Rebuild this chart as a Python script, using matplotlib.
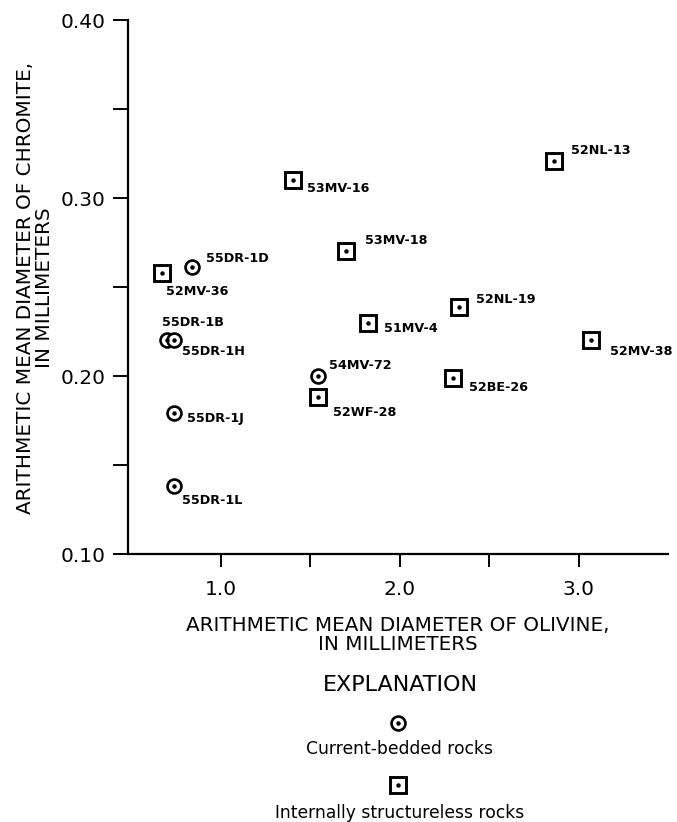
import numpy as np
import matplotlib
matplotlib.use("Agg")
import matplotlib.pyplot as plt
from matplotlib.lines import Line2D

# samples: current-bedded rocks (circles)
bedded_names = ["55DR-1D", "55DR-1B", "55DR-1H", "55DR-1J", "55DR-1L", "54MV-72"]
bedded_olivine = [0.84, 0.70, 0.74, 0.74, 0.74, 1.545]
bedded_chromite = [0.261, 0.220, 0.220, 0.179, 0.138, 0.200]

# samples: internally structureless rocks (squares)
massive_names = ["52NL-13", "53MV-16", "53MV-18", "52MV-36", "51MV-4",
                 "52NL-19", "52MV-38", "52BE-26", "52WF-28"]
massive_olivine = [2.865, 1.40, 1.70, 0.67, 1.82, 2.33, 3.07, 2.30, 1.545]
massive_chromite = [0.321, 0.310, 0.270, 0.258, 0.230, 0.239, 0.220, 0.199, 0.188]

x_ticks = [1.0, 1.5, 2.0, 2.5, 3.0]
x_ticklabels = ["1.0", "", "2.0", "", "3.0"]
y_ticks = [0.10, 0.15, 0.20, 0.25, 0.30, 0.35, 0.40]
y_ticklabels = ["0.10", "", "0.20", "", "0.30", "", "0.40"]

# label offsets in pixels from the marker (dx, dy)
label_offsets = {
    "52NL-13": (17, 10), "53MV-16": (14, -8), "53MV-18": (19, 11),
    "52MV-36": (4, -19), "55DR-1D": (14, 9), "55DR-1B": (-5, 18),
    "55DR-1H": (8, -11), "51MV-4": (16, -6), "54MV-72": (11, 11),
    "52WF-28": (15, -15), "55DR-1J": (13, -5), "55DR-1L": (8, -14),
    "52NL-19": (17, 7), "52MV-38": (19, -11), "52BE-26": (16, -10),
}

W, H = 677, 822
fig = plt.figure(figsize=(W / 100, H / 100), dpi=100)
ax = fig.add_axes([128 / W, 1 - 554 / H, 540 / W, 534 / H])

circle_style = dict(linestyle="none", marker="o", ms=10, mfc="white", mec="black", mew=1.9)
square_style = dict(linestyle="none", marker="s", ms=12, mfc="white", mec="black", mew=2.1)
dot_style = dict(linestyle="none", marker="o", ms=2.2, color="black")

ax.plot(bedded_olivine, bedded_chromite, **circle_style)
ax.plot(bedded_olivine, bedded_chromite, **dot_style)
ax.plot(massive_olivine, massive_chromite, **square_style)
ax.plot(massive_olivine, massive_chromite, **dot_style)

for names, xs, ys in [(bedded_names, bedded_olivine, bedded_chromite),
                      (massive_names, massive_olivine, massive_chromite)]:
    for n, x, y in zip(names, xs, ys):
        ax.annotate(n, (x, y), xytext=label_offsets[n], textcoords="offset pixels",
                    ha="left", va="center", fontsize=9.2, fontweight="bold")

ax.set_xlim(0.48, 3.5)
ax.set_ylim(0.10, 0.40)
ax.set_xticks(x_ticks)
ax.set_xticklabels(x_ticklabels)
ax.set_yticks(y_ticks)
ax.set_yticklabels(y_ticklabels)
for s in ["top", "right"]:
    ax.spines[s].set_visible(False)
for s in ["left", "bottom"]:
    ax.spines[s].set_linewidth(1.6)
ax.tick_params(axis="x", direction="out", length=9, width=1.4, pad=10, labelsize=14.5)
ax.tick_params(axis="y", direction="out", length=11, width=1.4, pad=5, labelsize=14.5)

fig.text(35 / W, 1 - 288 / H, "ARITHMETIC MEAN DIAMETER OF CHROMITE,\nIN MILLIMETERS",
         rotation=90, ha="center", va="center", multialignment="center",
         fontsize=14.4, linespacing=0.95)
fig.text(398 / W, 1 - 635 / H, "ARITHMETIC MEAN DIAMETER OF OLIVINE,\nIN MILLIMETERS",
         ha="center", va="center", multialignment="center", fontsize=14.3, linespacing=0.95)

# explanation block
fig.text(400 / W, 1 - 685 / H, "EXPLANATION", ha="center", va="center", fontsize=16)
cx, cy = 398 / W, 1 - 723 / H
fig.add_artist(Line2D([cx], [cy], transform=fig.transFigure, **circle_style))
fig.add_artist(Line2D([cx], [cy], transform=fig.transFigure, **dot_style))
fig.text(400 / W, 1 - 749 / H, "Current-bedded rocks", ha="center", va="center", fontsize=12.3)
sx, sy = 398 / W, 1 - 785 / H
fig.add_artist(Line2D([sx], [sy], transform=fig.transFigure, **square_style))
fig.add_artist(Line2D([sx], [sy], transform=fig.transFigure, **dot_style))
fig.text(400 / W, 1 - 813 / H, "Internally structureless rocks", ha="center", va="center", fontsize=12.3)

fig.savefig("out.png", dpi=100)
